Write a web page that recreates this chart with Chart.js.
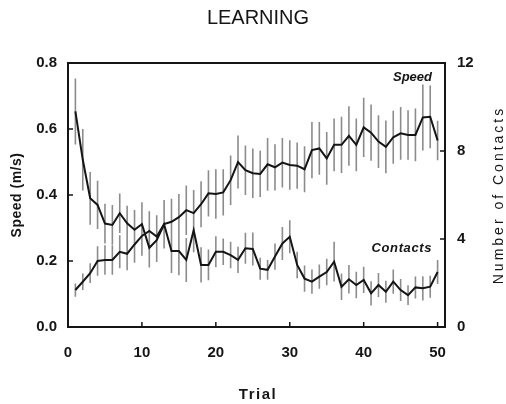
<!DOCTYPE html>
<html>
<head>
<meta charset="utf-8">
<script src="https://cdn.jsdelivr.net/npm/chart.js@4.4.1/dist/chart.umd.min.js"></script>
<style>
    html, body { margin: 0; padding: 0; background: #fff; }
    #wrap { width: 506px; height: 404px; }
</style>
</head>
<body>
<div id="wrap"><canvas id="chart" width="506" height="404"></canvas></div>
<script>
const trials = [1, 2, 3, 4, 5, 6, 7, 8, 9, 10, 11, 12, 13, 14, 15, 16, 17, 18, 19, 20, 21, 22, 23, 24, 25,
    26, 27, 28, 29, 30, 31, 32, 33, 34, 35, 36, 37, 38, 39, 40, 41, 42, 43, 44, 45, 46, 47, 48, 49, 50];

// speed (m/s), mean and half error bar
const speed = [0.112, 0.137, 0.163, 0.200, 0.203, 0.203, 0.228, 0.222, 0.250, 0.276, 0.291, 0.274, 0.312, 0.319, 0.333,
    0.354, 0.345, 0.372, 0.405, 0.403, 0.408, 0.445, 0.500, 0.475, 0.466, 0.464, 0.493, 0.484, 0.498, 0.491,
    0.489, 0.478, 0.536, 0.541, 0.511, 0.552, 0.552, 0.579, 0.552, 0.605, 0.589, 0.562, 0.546, 0.575, 0.587,
    0.582, 0.582, 0.635, 0.637, 0.565];
const speedErr = [0.02, 0.025, 0.03, 0.045, 0.045, 0.045, 0.05, 0.05, 0.055, 0.06, 0.06, 0.065, 0.065, 0.07, 0.07,
    0.075, 0.07, 0.07, 0.07, 0.075, 0.07, 0.075, 0.08, 0.075, 0.075, 0.07, 0.08, 0.07, 0.075, 0.075,
    0.07, 0.07, 0.085, 0.08, 0.08, 0.08, 0.085, 0.09, 0.08, 0.09, 0.085, 0.08, 0.08, 0.08, 0.08,
    0.075, 0.08, 0.10, 0.095, 0.06];

// number of contacts, mean and half error bar
const contacts = [9.8, 7.6, 5.85, 5.55, 4.7, 4.64, 5.17, 4.71, 4.42, 4.67, 3.6, 3.95, 4.67, 3.45, 3.45,
    3.05, 4.4, 2.82, 2.82, 3.42, 3.42, 3.27, 3.05, 3.58, 3.55, 2.65, 2.6, 3.2, 3.8, 4.1,
    2.82, 2.2, 2.06, 2.29, 2.5, 2.97, 1.83, 2.17, 1.91, 2.14, 1.53, 1.91, 1.6, 2.06, 1.68,
    1.45, 1.8, 1.76, 1.83, 2.5];
const contactsErr = [1.5, 1.4, 1.2, 1.1, 0.9, 0.9, 0.9, 0.8, 0.9, 1.0, 0.9, 1.0, 1.1, 1.0, 1.1,
    1.0, 1.0, 0.8, 0.7, 0.7, 0.6, 0.6, 0.6, 0.7, 0.75, 0.5, 0.45, 0.6, 0.75, 0.75,
    0.6, 0.6, 0.55, 0.55, 0.6, 0.9, 0.6, 0.65, 0.6, 0.6, 0.55, 0.55, 0.5, 0.55, 0.5,
    0.45, 0.5, 0.55, 0.5, 0.55];

const xTicks = [0, 10, 20, 30, 40, 50];

const INK = "#151515";
const BAR = "#8c8c8c";
const FONT = "'Liberation Sans', Arial, sans-serif";

function toPoints(values) {
    return trials.map((t, i) => ({ x: t, y: values[i] }));
}

function text(ctx, str, x, y, font, opts = {}) {
    ctx.save();
    ctx.font = font;
    ctx.fillStyle = INK;
    ctx.textAlign = opts.align || "center";
    ctx.textBaseline = "middle";
    if (opts.spacing) ctx.letterSpacing = opts.spacing + "px";
    ctx.translate(x, y);
    if (opts.rotate) ctx.rotate(opts.rotate);
    ctx.fillText(str, 0, 0);
    ctx.restore();
}

const extras = {
    id: "extras",
    beforeDatasetsDraw(c) {
        const { ctx, scales } = c;
        const x = scales.x, ys = scales.ySpeed, yc = scales.yContacts;
        ctx.save();
        ctx.strokeStyle = BAR;
        ctx.lineWidth = 1.6;
        trials.forEach((t, i) => {
            const px = x.getPixelForValue(t);
            ctx.beginPath();
            ctx.moveTo(px, ys.getPixelForValue(speed[i] - speedErr[i]));
            ctx.lineTo(px, ys.getPixelForValue(speed[i] + speedErr[i]));
            ctx.moveTo(px, yc.getPixelForValue(contacts[i] - contactsErr[i]));
            ctx.lineTo(px, yc.getPixelForValue(contacts[i] + contactsErr[i]));
            ctx.stroke();
        });
        ctx.restore();
    },
    afterDraw(c) {
        const { ctx, chartArea: a, scales } = c;
        ctx.save();
        ctx.strokeStyle = INK;
        ctx.lineWidth = 2;
        ctx.strokeRect(a.left, a.top, a.right - a.left, a.bottom - a.top);

        // inward tick marks
        ctx.lineWidth = 1.5;
        ctx.beginPath();
        [0.2, 0.4, 0.6].forEach(v => {
            const py = scales.ySpeed.getPixelForValue(v);
            ctx.moveTo(a.left, py); ctx.lineTo(a.left + 5, py);
        });
        [4, 8].forEach(v => {
            const py = scales.yContacts.getPixelForValue(v);
            ctx.moveTo(a.right, py); ctx.lineTo(a.right - 5, py);
        });
        xTicks.slice(1).forEach(v => {
            const px = scales.x.getPixelForValue(v);
            ctx.moveTo(px, a.bottom); ctx.lineTo(px, a.bottom - 5);
        });
        ctx.stroke();
        ctx.restore();

        text(ctx, "LEARNING", 258, 18, `20px ${FONT}`);
        text(ctx, "Trial", 258, 395, `bold 15px ${FONT}`, { spacing: 1.5 });
        text(ctx, "Speed (m/s)", 17, 195, `bold 14px ${FONT}`, { rotate: -Math.PI / 2, spacing: 0.5 });
        text(ctx, "Number of Contacts", 499, 195, `14px ${FONT}`, { rotate: -Math.PI / 2, spacing: 3 });
        text(ctx, "Speed", 432, 77, `italic bold 13px ${FONT}`, { align: "right" });
        text(ctx, "Contacts", 432, 248, `italic bold 13px ${FONT}`, { align: "right", spacing: 0.6 });
    }
};

const lineStyle = {
    borderColor: INK,
    borderWidth: 2,
    pointRadius: 0,
    tension: 0,
    fill: false
};

new Chart(document.getElementById("chart"), {
    type: "line",
    data: {
        datasets: [
            { label: "Speed", data: toPoints(speed), yAxisID: "ySpeed", ...lineStyle },
            { label: "Contacts", data: toPoints(contacts), yAxisID: "yContacts", ...lineStyle }
        ]
    },
    options: {
        responsive: false,
        animation: false,
        devicePixelRatio: 1,
        layout: { padding: { top: 63, left: 0, right: 0, bottom: 0 } },
        plugins: { legend: { display: false }, tooltip: { enabled: false } },
        scales: {
            x: {
                type: "linear",
                min: 0,
                max: 51,
                afterBuildTicks: s => { s.ticks = xTicks.map(v => ({ value: v })); },
                afterFit: s => { s.height = 77; },
                grid: { display: false, drawTicks: false },
                border: { display: false },
                ticks: { color: INK, font: { family: FONT, size: 15, weight: "bold" }, padding: 17, maxRotation: 0 }
            },
            ySpeed: {
                position: "left",
                min: 0,
                max: 0.8,
                afterFit: s => { s.width = 68; },
                grid: { display: false, drawTicks: false },
                border: { display: false },
                ticks: { stepSize: 0.2, callback: v => v.toFixed(1), color: INK, font: { family: FONT, size: 15, weight: "bold" }, padding: 11 }
            },
            yContacts: {
                position: "right",
                min: 0,
                max: 12,
                afterFit: s => { s.width = 61; },
                grid: { display: false, drawTicks: false },
                border: { display: false },
                ticks: { stepSize: 4, color: INK, font: { family: FONT, size: 15, weight: "bold" }, padding: 12 }
            }
        }
    },
    plugins: [extras]
});
</script>
</body>
</html>
